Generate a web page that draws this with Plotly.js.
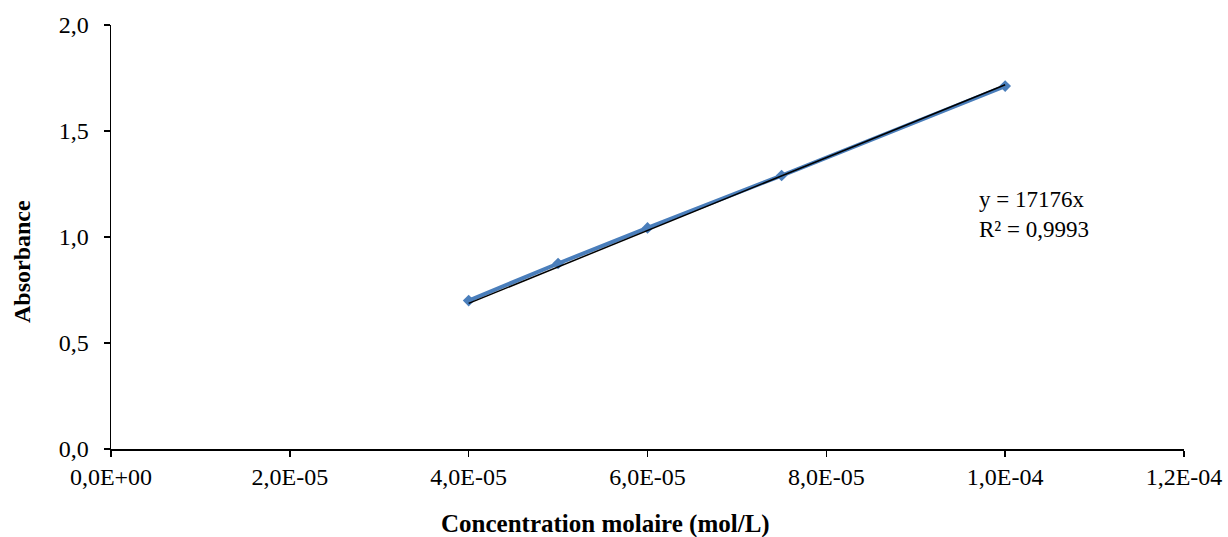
<!DOCTYPE html>
<html>
<head>
<meta charset="utf-8">
<script src="https://cdn.plot.ly/plotly-3.0.1.min.js"></script>
<style>html,body{margin:0;padding:0;background:#fff;}#chart{width:1228px;height:537px;}</style>
</head>
<body>
<div id="chart"></div>
<script>
// Data
const concentrations = [4.0e-5, 5.0e-5, 6.0e-5, 7.5e-5, 1.0e-4];
const absorbances = [0.700, 0.875, 1.043, 1.290, 1.712];
const trendX = [4.0e-5, 1.0e-4];
const trendY = [0.687, 1.718];
const xTickVals = [0, 2e-5, 4e-5, 6e-5, 8e-5, 1e-4, 1.2e-4];
const xTickText = ["0,0E+00", "2,0E-05", "4,0E-05", "6,0E-05", "8,0E-05", "1,0E-04", "1,2E-04"];
const yTickVals = [0, 0.5, 1.0, 1.5, 2.0];
const yTickText = ["0,0", "0,5", "1,0", "1,5", "2,0"];
const xTitle = "Concentration molaire (mol/L)";
const yTitle = "Absorbance";
const equationText = "y = 17176x<br>R² = 0,9993";

const serif = "Liberation Serif, Times New Roman, serif";

const traces = [
  {
    x: concentrations, y: absorbances, type: "scatter", mode: "lines+markers",
    line: {color: "#4a7ebb", width: 4},
    marker: {symbol: "diamond", size: 9, color: "#4a7ebb"},
    hoverinfo: "x+y", showlegend: false
  },
  {
    x: trendX, y: trendY, type: "scatter", mode: "lines",
    line: {color: "#000000", width: 1.5},
    hoverinfo: "skip", showlegend: false
  }
];

const layout = {
  width: 1228, height: 537,
  paper_bgcolor: "#ffffff", plot_bgcolor: "#ffffff",
  margin: {l: 111, r: 44, t: 25, b: 88},
  font: {family: serif, size: 24, color: "#000"},
  showlegend: false,
  xaxis: {
    range: [0, 1.2e-4], tickvals: xTickVals, ticktext: xTickText,
    showgrid: false, zeroline: false, showline: true, linecolor: "#000", linewidth: 1.5,
    ticks: "outside", ticklen: 6, tickwidth: 1.5, tickcolor: "#000",
    tickfont: {family: serif, size: 24, color: "#000"}
  },
  yaxis: {
    range: [0, 2.0], tickvals: yTickVals, ticktext: yTickText,
    showgrid: false, zeroline: false, showline: true, linecolor: "#000", linewidth: 1.5,
    ticks: "outside", ticklen: 6, tickwidth: 1.5, tickcolor: "#000", ticklabelstandoff: 10,
    tickfont: {family: serif, size: 24, color: "#000"}
  },
  annotations: [
    {x: 0.461, y: 0, xref: "paper", yref: "paper", yshift: -75, xanchor: "center", yanchor: "middle",
     text: "<b>" + xTitle + "</b>", showarrow: false, font: {family: serif, size: 25, color: "#000"}},
    {x: 0, y: 0.441, xref: "paper", yref: "paper", xshift: -89, xanchor: "center", yanchor: "middle",
     textangle: -90, text: "<b>" + yTitle + "</b>", showarrow: false, font: {family: serif, size: 24, color: "#000"}},
    {x: 9.68e-5, y: 1.106, xref: "x", yref: "y", xanchor: "left", yanchor: "middle", text: equationText, showarrow: false,
     align: "left", font: {family: serif, size: 23, color: "#000"}}
  ]
};

Plotly.newPlot("chart", traces, layout, {displayModeBar: false, staticPlot: true});
</script>
</body>
</html>
